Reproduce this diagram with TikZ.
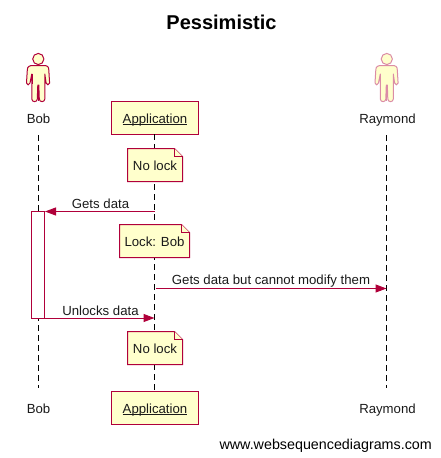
\documentclass[tikz,border=0pt]{standalone}
\usepackage{fontspec}
\setmainfont{Liberation Sans}
\usetikzlibrary{arrows.meta,calc}
\definecolor{wsdline}{HTML}{B0003A}
\definecolor{wsdfill}{HTML}{FFFFCC}
\definecolor{wsdtext}{HTML}{1A1A1A}
\newcommand{\wsdactor}[3]{% x, stroke colour, name
  \begin{scope}[shift={(#1,0)},line width=1pt,draw=#2,fill=wsdfill,line join=round]
    \path[draw,fill] (0,59) circle (5.6);
    \path[draw,fill] (-5,65.5) -- (5,65.5) .. controls (9,65.5) and (10.5,66.5) .. (10.5,70)
      -- (11.3,83) .. controls (11.3,85.5) and (8,85.5) .. (7.8,83) -- (6.5,74) -- (6.5,99)
      .. controls (6.5,102.5) and (1,102.5) .. (1,99) -- (0.5,85) -- (-0.5,85) -- (-1,99)
      .. controls (-1,102.5) and (-6.5,102.5) .. (-6.5,99) -- (-6.5,74) -- (-8.3,83)
      .. controls (-8.5,85.5) and (-11.8,85.5) .. (-11.8,83) -- (-11,70)
      .. controls (-11,66.5) and (-9,65.5) .. (-5,65.5) -- cycle;
    \path[draw] (0,85) -- (0,101);
    \path[draw] (-6,74) -- (-6,84);
  \end{scope}}
\newcommand{\wsdnote}[5]{% name, x1, y1, x2, text (height fixed 33)
  \coordinate (#1nw) at (#2,#3);
  \coordinate (#1se) at (#4,#3+33);
  \path[notestyle] (#2,#3) -- (#4-8,#3) -- (#4,#3+8) -- (#4,#3+33) -- (#2,#3+33) -- cycle;
  \path[notestyle,fill=wsdfill] (#4-8,#3) -- (#4-8,#3+8) -- (#4,#3+8);
  \node[wsdlabel] (#1) at ({(#2+#4)/2},#3+21.7) {#5};}
\tikzset{
  x=1pt,y=-1pt,
  wsdlabel/.style={font=\fontsize{13.2}{15}\selectfont,text=wsdtext,inner sep=0pt,anchor=base},
  arrowlabel/.style={font=\fontsize{13.2}{15}\selectfont,text=wsdtext,inner sep=0pt,anchor=base},
  appbox/.style={draw=wsdline,fill=wsdfill,line width=1pt,minimum width=87pt,minimum height=33pt,inner sep=0pt},
  notestyle/.style={draw=wsdline,fill=wsdfill,line width=1pt,line join=miter},
  lifeline/.style={draw=black,line width=1pt,dash pattern=on 6pt off 4pt},
  message/.style={draw=wsdline,line width=1pt,-{Triangle[length=11pt,width=8pt,color=wsdline]}},
  actbar/.style={draw=wsdline,fill=white,line width=1pt,minimum width=13pt,minimum height=106.5pt,inner sep=0pt},
}
\begin{document}
\begin{tikzpicture}
\useasboundingbox (0,0) rectangle (440,458);
\node[font=\bfseries\fontsize{20}{24}\selectfont,inner sep=0pt,anchor=base] (title) at (221.5,29.5) {Pessimistic};
% lifeline ends
\coordinate (bobtop) at (38.5,135);
\coordinate (bobend) at (38.5,388);
\node[appbox] (apptop) at (155,117.5) {};
\node[appbox] (appbot) at (155,407.5) {};
\node[wsdlabel] (apptopl) at (155,123) {\underline{\smash{Application}}};
\node[wsdlabel] (appbotl) at (155,413) {\underline{\smash{Application}}};
\coordinate (raytop) at (386.5,135);
\coordinate (rayend) at (386.5,388);
\coordinate (appline) at (154.5,134);
\coordinate (append) at (154.5,391);
\path[lifeline] (bobtop) -- (bobend);
\path[lifeline] (raytop) -- (rayend);
\path[lifeline] (appline) -- (append);
% actors
\wsdactor{38.3}{wsdline}{Bob}
\wsdactor{386.8}{wsdline!45!white}{Raymond}
\node[wsdlabel] (bobt) at (38.5,123) {Bob};
\node[wsdlabel] (rayt) at (387.5,123) {Raymond};
\node[wsdlabel] (bobb) at (38.5,413) {Bob};
\node[wsdlabel] (rayb) at (387.5,413) {Raymond};
% activation
\node[actbar] (act) at (38,264.75) {};
% notes
\wsdnote{nolocka}{127.5}{148.5}{182.5}{No lock}
\wsdnote{lockbob}{119.5}{224.5}{189.5}{Lock: Bob}
\wsdnote{nolockb}{127.5}{331.5}{182.5}{No lock}
% messages
\coordinate (getsfrom) at (154.5,211.5);
\coordinate (modfrom) at (155.5,288.5);
\coordinate (modto) at (386.5,288.5);
\coordinate (unlockto) at (154.5,318);
\path[message] (getsfrom) -- (getsfrom -| act.east);
\path[message] (modfrom) -- (modto);
\path[message] (act.east |- unlockto) -- (unlockto);
\node[arrowlabel] (l1) at (100.5,208.5) {Gets data};
\node[arrowlabel] (l2) at (271,284.5) {Gets data but cannot modify them};
\node[arrowlabel] (l3) at (100.5,315.5) {Unlocks data};
\node[font=\fontsize{14.3}{17}\selectfont,text=black,inner sep=0pt,anchor=base east] (foot) at (432,449) {www.websequencediagrams.com};
\end{tikzpicture}
\end{document}
